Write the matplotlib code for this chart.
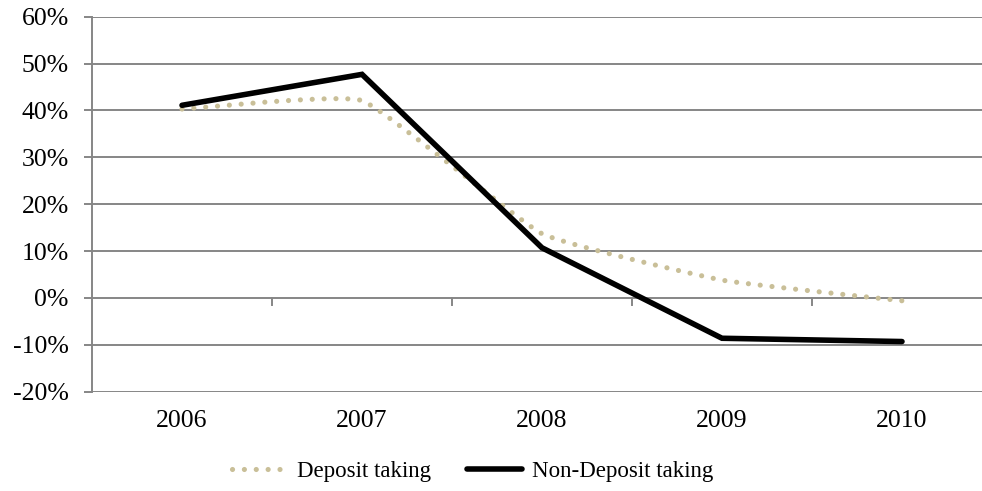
import numpy as np
import matplotlib
matplotlib.use("Agg")
import matplotlib.pyplot as plt
from matplotlib.lines import Line2D

years = ["2006", "2007", "2008", "2009", "2010"]
deposit = [40.3, 42.1, 13.7, 3.8, -0.6]
non_deposit = [41.1, 47.7, 10.7, -8.6, -9.3]
y_ticks = [-20, -10, 0, 10, 20, 30, 40, 50, 60]

plt.rcParams['font.family'] = ['Liberation Serif', 'DejaVu Serif']

W, H = 982, 491
fig = plt.figure(figsize=(W / 100, H / 100), dpi=100)
left, right, top, bottom = 92, 992, 16.7, 391.7
ax = fig.add_axes([left / W, 1 - bottom / H, (right - left) / W, (bottom - top) / H])

grid_c = '#868686'
xs = np.arange(len(years))
ax.set_xlim(-0.5, len(years) - 0.5)
ax.set_ylim(-20, 60)

for v in y_ticks:
    ax.axhline(v, color=grid_c, lw=1.4, zorder=1)

# lightly smoothed curve (Bezier with short control arms) in pixel-like space
sx, sy = 180.0, 4.6875
k = 0.35
P = np.column_stack([xs * sx, np.array(deposit) * sy])
pts = []
n = len(P)
for i in range(n - 1):
    p0 = P[i - 1] if i > 0 else P[i]
    p1 = P[i]
    p2 = P[i + 1]
    p3 = P[i + 2] if i + 2 < n else P[i + 1]
    c1 = p1 + k * (p2 - p0) / 6
    c2 = p2 - k * (p3 - p1) / 6
    t = np.linspace(0, 1, 80)[:, None]
    seg = (1 - t) ** 3 * p1 + 3 * (1 - t) ** 2 * t * c1 + 3 * (1 - t) * t ** 2 * c2 + t ** 3 * p2
    pts.append(seg if i == 0 else seg[1:])
curve = np.vstack(pts)
dep_color = '#C9BF98'
dot_style = (0, (0.01, 2.3))
ax.plot(curve[:, 0] / sx, curve[:, 1] / sy, color=dep_color, lw=3.7,
        linestyle=dot_style, dash_capstyle='round', zorder=3)

ax.plot(xs, non_deposit, color='black', lw=4.0, solid_capstyle='round',
        solid_joinstyle='miter', zorder=4)

# category axis ticks at 0 line
for b in np.arange(0.5, len(years) - 1, 1.0):
    ax.plot([b, b], [0, -1.5], color=grid_c, lw=1.4, zorder=2, clip_on=False)

ax.set_yticks(y_ticks)
ax.set_yticklabels([f"{v}%" for v in y_ticks])
ax.set_xticks(xs)
ax.set_xticklabels(years)
ax.tick_params(axis='y', length=8 * 0.72, width=1.4, color=grid_c, labelsize=18.5, pad=11)
ax.tick_params(axis='x', length=0, labelsize=18.5, pad=13)
for s in ['top', 'right', 'bottom']:
    ax.spines[s].set_visible(False)
ax.spines['left'].set_color(grid_c)
ax.spines['left'].set_linewidth(1.4)

handles = [
    Line2D([], [], color=dep_color, lw=3.7, linestyle=dot_style, dash_capstyle='round'),
    Line2D([], [], color='black', lw=4.0, solid_capstyle='round'),
]
fig.legend(handles, ["Deposit taking", "Non-Deposit taking"], loc='center',
           bbox_to_anchor=(472.5 / W, 1 - 471.5 / H), ncol=2, frameon=False,
           fontsize=16.5, handlelength=2.4, handletextpad=0.44, columnspacing=1.57,
           borderpad=0, borderaxespad=0)

fig.savefig("out.png", dpi=100)
